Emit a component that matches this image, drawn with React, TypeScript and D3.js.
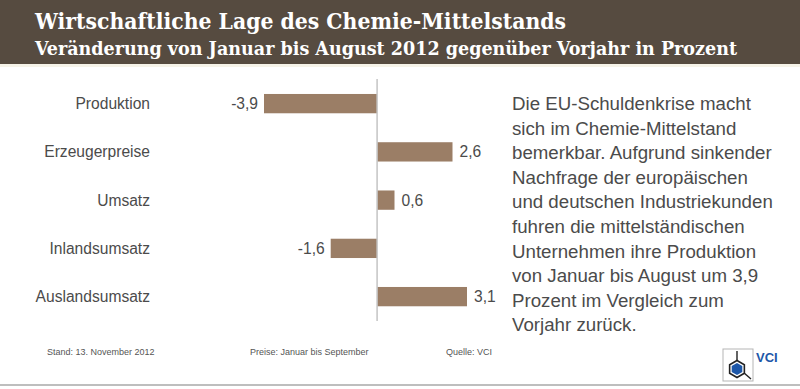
import React from "react";
import * as d3 from "d3";

// chart data
const categories = ["Produktion", "Erzeugerpreise", "Umsatz", "Inlandsumsatz", "Auslandsumsatz"];
const values = [-3.9, 2.6, 0.6, -1.6, 3.1];

const title = "Wirtschaftliche Lage des Chemie-Mittelstands";
const subtitle = "Veränderung von Januar bis August 2012 gegenüber Vorjahr in Prozent";

const bodyLines = [
  "Die EU-Schuldenkrise macht",
  "sich im Chemie-Mittelstand",
  "bemerkbar. Aufgrund sinkender",
  "Nachfrage der europäischen",
  "und deutschen Industriekunden",
  "fuhren die mittelständischen",
  "Unternehmen ihre Produktion",
  "von Januar bis August um 3,9",
  "Prozent im Vergleich zum",
  "Vorjahr zurück.",
];

const footnotes = ["Stand: 13. November 2012", "Preise: Januar bis September", "Quelle: VCI"];

const W = 800;
const H = 389;
const BAR = "#9b7e66";
const TEXT = "#4b4b4b";
const HEADER = "#564b40";

function fmt(v: number) {
  return v.toFixed(1).replace(".", ",");
}

function Logo() {
  // small VCI mark in the lower right corner
  const cx = 737;
  const cy = 369;
  const r = 8.5;
  const hex = d3.range(6).map((i) => {
    const a = (Math.PI / 3) * i - Math.PI / 2;
    return [cx + r * Math.cos(a), cy + r * Math.sin(a)] as [number, number];
  });
  const line = d3.line();
  const inner = hex.map(([x, y]) => [cx + (x - cx) * 0.72, cy + (y - cy) * 0.72] as [number, number]);
  return (
    <g>
      <rect x={723} y={349} width={30} height={32} fill="#fff" stroke="#b5b5b5" strokeWidth={1} />
      <path d={line(hex)! + "Z"} fill="#fff" stroke="#222" strokeWidth={1.6} />
      <path d={line(inner)! + "Z"} fill="#1d57a8" />
      <line x1={cx} y1={cy - r} x2={cx} y2={351} stroke="#222" strokeWidth={1.4} />
      <line x1={hex[2][0]} y1={hex[2][1]} x2={751} y2={379} stroke="#222" strokeWidth={1.4} />
      <text
        x={756}
        y={362}
        fontFamily="'Liberation Sans Narrow', 'Liberation Sans', sans-serif"
        fontWeight="bold"
        fontSize={13}
        fill="#1d57a8"
      >
        VCI
      </text>
    </g>
  );
}

export default function App() {
  const x = d3.scaleLinear().domain([-3.9, 3.1]).range([264, 467]);
  const y = d3.scaleBand<string>().domain(categories).range([79.5, 320.75]).paddingInner(0.6).paddingOuter(0.3);
  const zero = x(0);

  return (
    <svg
      width={W}
      height={H}
      viewBox={`0 0 ${W} ${H}`}
      style={{ position: "absolute", left: 0, top: 0, display: "block" }}
    >
      <rect width={W} height={H} fill="#fff" />
      {/* header */}
      <rect width={W} height={64} fill={HEADER} />
      <rect y={64} width={W} height={3} fill="#f6f3e8" />
      <text
        x={35}
        y={29}
        fill="#fff"
        fontFamily="'DejaVu Serif Condensed', 'DejaVu Serif', serif"
        fontWeight="bold"
        fontSize={22}
        textLength={531}
        lengthAdjust="spacingAndGlyphs"
      >
        {title}
      </text>
      <text
        x={35}
        y={55}
        fill="#fff"
        fontFamily="'DejaVu Serif Condensed', 'DejaVu Serif', serif"
        fontWeight="bold"
        fontSize={18.5}
        textLength={702}
        lengthAdjust="spacingAndGlyphs"
      >
        {subtitle}
      </text>

      {/* bars */}
      {categories.map((c, i) => {
        const v = values[i];
        const y0 = y(c)!;
        const bw = y.bandwidth();
        const cy = y0 + bw / 2;
        return (
          <g key={c}>
            <text
              x={150}
              y={cy}
              dy="0.35em"
              textAnchor="end"
              fontFamily="'Liberation Sans', Arial, sans-serif"
              fontSize={15.6}
              fill={TEXT}
            >
              {c}
            </text>
            <rect x={Math.min(x(v), zero)} y={y0} width={Math.abs(x(v) - zero)} height={bw} fill={BAR} />
            <text
              x={v < 0 ? x(v) - 6 : x(v) + 7}
              y={cy}
              dy="0.35em"
              textAnchor={v < 0 ? "end" : "start"}
              fontFamily="'Liberation Sans', Arial, sans-serif"
              fontSize={15.6}
              fill={TEXT}
            >
              {fmt(v)}
            </text>
          </g>
        );
      })}
      <line x1={zero} x2={zero} y1={79} y2={321} stroke="#c4c4c4" strokeWidth={1.5} />

      {/* right text */}
      <text fontFamily="'Liberation Sans', Arial, sans-serif" fontSize={18.7} fill={TEXT}>
        {bodyLines.map((l, i) => (
          <tspan key={i} x={512} y={110 + i * 24.6}>
            {l}
          </tspan>
        ))}
      </text>

      {/* footer */}
      {footnotes.map((f, i) => (
        <text
          key={f}
          x={[47, 250, 446][i]}
          y={355}
          fontFamily="'Liberation Sans Narrow', 'Liberation Sans', sans-serif"
          fontSize={9}
          fill="#555"
        >
          {f}
        </text>
      ))}
      <Logo />
      <line x1={0} x2={W} y1={385} y2={385} stroke="#a8a8a8" strokeWidth={1.5} />
    </svg>
  );
}
